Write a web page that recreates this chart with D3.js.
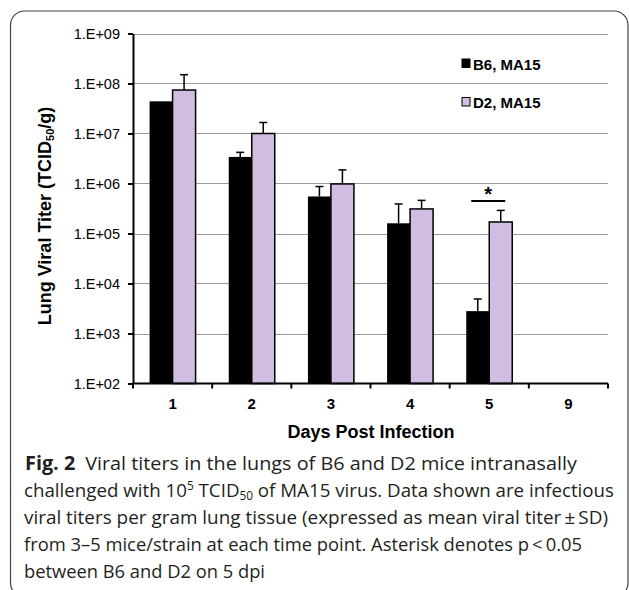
<!DOCTYPE html>
<html>
<head>
<meta charset="utf-8">
<script src="https://cdn.jsdelivr.net/npm/d3@7"></script>
<style>
body { margin: 0; background: #fff; }
svg { display: block; }
</style>
</head>
<body>
<div id="chart"></div>
<script>
// values (TCID50 per gram)
var days = ["1", "2", "3", "4", "5", "9"];
var b6Mean = [4.4e7, 3.4e6, 5.5e5, 1.6e5, 2.8e3, null];
var b6Upper = [null, 4.2e6, 8.7e5, 3.9e5, 4.9e3, null];
var d2Mean = [7.4e7, 1.0e7, 9.8e5, 3.1e5, 1.7e5, null];
var d2Upper = [1.5e8, 1.66e7, 1.87e6, 4.6e5, 2.9e5, null];
var yTicks = [1e2, 1e3, 1e4, 1e5, 1e6, 1e7, 1e8, 1e9];
var seriesNames = ["B6, MA15", "D2, MA15"];
var seriesColors = ["#000000", "#d1bde2"];

var svg = d3.select("#chart").append("svg").attr("width", 629).attr("height", 590);

//frame round the figure
svg.append("rect").attr("x", 10.5).attr("y", 11).attr("width", 617.5).attr("height", 586).attr("rx", 14)
  .attr("fill", "none").attr("stroke", "#444").attr("stroke-width", 1.2);

var plotL = 133, plotR = 608, plotT = 33.5, plotB = 383.5;

var x = d3.scaleBand().domain(days).range([plotL, plotR]).padding(0);
var y = d3.scaleLog().domain([1e2, 1e9]).range([plotB, plotT]);
var barW = 23;

//gridlines
svg.append("g").selectAll("line").data(yTicks.slice(1)).enter().append("line")
  .attr("x1", plotL).attr("x2", plotR).attr("y1", d => Math.round(y(d)) + 0.5).attr("y2", d => Math.round(y(d)) + 0.5)
  .attr("stroke", "#9a9a9a").attr("stroke-width", 1);

//y axis
var yAxis = d3.axisLeft(y).tickValues(yTicks).tickSize(5).tickSizeOuter(0).tickPadding(8)
  .tickFormat(d => "1.E+" + String(Math.round(Math.log10(d))).padStart(2, "0"));
var gy = svg.append("g").attr("transform", "translate(" + plotL + ",0)").call(yAxis);
gy.selectAll("text").attr("font-family", "Liberation Sans, Arial, sans-serif").attr("font-size", 14.5).attr("fill", "#000");
gy.selectAll("line,path").attr("stroke", "#000").attr("stroke-width", 2);

//bars
var pairs = days.map((d, i) => ({ day: d, vals: [b6Mean[i], d2Mean[i]], ups: [b6Upper[i], d2Upper[i]] }));
var groups = svg.append("g").selectAll("g").data(pairs).enter().append("g");

groups.each(function (p) {
  var g = d3.select(this);
  var cx = x(p.day) + x.bandwidth() / 2;
  p.vals.forEach(function (v, s) {
    if (v == null) return;
    var bx = s == 0 ? cx - barW : cx;
    g.append("rect").attr("x", bx).attr("y", y(v)).attr("width", barW).attr("height", plotB - y(v))
      .attr("fill", seriesColors[s]).attr("stroke", "#000").attr("stroke-width", s == 0 ? 0 : 1.5);
    var u = p.ups[s];
    if (u != null) {
      var ex = bx + barW / 2;
      g.append("line").attr("x1", ex).attr("x2", ex).attr("y1", y(v)).attr("y2", y(u)).attr("stroke", "#000").attr("stroke-width", 1.5);
      g.append("line").attr("x1", ex - 4).attr("x2", ex + 4).attr("y1", y(u)).attr("y2", y(u)).attr("stroke", "#000").attr("stroke-width", 1.5);
    }
  });
});

//x axis
var gx = svg.append("g");
gx.append("line").attr("x1", plotL).attr("x2", plotR).attr("y1", plotB).attr("y2", plotB).attr("stroke", "#000").attr("stroke-width", 2);
gx.selectAll(".tk").data(days.concat(["end"])).enter().append("line")
  .attr("x1", (d, i) => plotL + i * x.bandwidth()).attr("x2", (d, i) => plotL + i * x.bandwidth())
  .attr("y1", plotB).attr("y2", plotB + 5).attr("stroke", "#000").attr("stroke-width", 2);
gx.selectAll("text").data(days).enter().append("text")
  .attr("x", d => x(d) + x.bandwidth() / 2).attr("y", 409).attr("text-anchor", "middle")
  .attr("font-family", "Liberation Sans, Arial, sans-serif").attr("font-weight", "bold").attr("font-size", 15)
  .text(d => d);

svg.append("text").attr("x", 371).attr("y", 438).attr("text-anchor", "middle")
  .attr("font-family", "Liberation Sans, Arial, sans-serif").attr("font-weight", "bold").attr("font-size", 18)
  .text("Days Post Infection");

//y title
var yt = svg.append("text").attr("transform", "translate(51,216) rotate(-90)").attr("text-anchor", "middle")
  .attr("font-family", "Liberation Sans, Arial, sans-serif").attr("font-weight", "bold").attr("font-size", 18);
yt.append("tspan").text("Lung Viral Titer (TCID");
yt.append("tspan").attr("font-size", 11).attr("baseline-shift", "-3").text("50");
yt.append("tspan").text("/g)");

//legend
var lg = svg.append("g").selectAll("g").data(seriesNames).enter().append("g")
  .attr("transform", (d, i) => "translate(462," + (59 + i * 38.5) + ")");
lg.append("rect").attr("width", 8).attr("height", 8.5).attr("fill", (d, i) => seriesColors[i]).attr("stroke", "#000").attr("stroke-width", 1);
lg.append("text").attr("x", 11).attr("y", 10.5).attr("font-family", "Liberation Sans, Arial, sans-serif")
  .attr("font-weight", "bold").attr("font-size", 15).text(d => d);

//significance mark on day 5
var c5 = x("5") + x.bandwidth() / 2;
svg.append("line").attr("x1", c5 - 18).attr("x2", c5 + 16).attr("y1", 201).attr("y2", 201).attr("stroke", "#000").attr("stroke-width", 2);
svg.append("text").attr("x", c5 - 1).attr("y", 201).attr("text-anchor", "middle")
  .attr("font-family", "Liberation Sans, Arial, sans-serif").attr("font-weight", "bold").attr("font-size", 20).text("*");

//caption, each line squeezed to the width it has in the figure
var cap = svg.append("g").attr("font-family", "Open Sans, sans-serif").attr("font-size", 19).attr("fill", "#231f20");
var l1 = cap.append("text").attr("x", 25).attr("y", 470).attr("textLength", 552).attr("lengthAdjust", "spacingAndGlyphs");
l1.append("tspan").attr("font-weight", "bold").text("Fig. 2");
l1.append("tspan").text("\u2002Viral titers in the lungs of B6 and D2 mice intranasally");
var l2 = cap.append("text").attr("x", 24).attr("y", 497).attr("textLength", 590).attr("lengthAdjust", "spacingAndGlyphs");
l2.append("tspan").text("challenged with 10");
l2.append("tspan").attr("font-size", 12).attr("baseline-shift", "7").text("5");
l2.append("tspan").text(" TCID");
l2.append("tspan").attr("font-size", 12).attr("baseline-shift", "-3").text("50");
l2.append("tspan").text(" of MA15 virus. Data shown are infectious");
cap.append("text").attr("x", 24).attr("y", 524).attr("textLength", 584).attr("lengthAdjust", "spacingAndGlyphs")
  .text("viral titers per gram lung tissue (expressed as mean viral titer\u2009\u00b1\u2009SD)");
cap.append("text").attr("x", 24).attr("y", 551).attr("textLength", 558).attr("lengthAdjust", "spacingAndGlyphs")
  .text("from 3\u20135 mice/strain at each time point. Asterisk denotes p\u2009<\u20090.05");
cap.append("text").attr("x", 24).attr("y", 578).attr("textLength", 241).attr("lengthAdjust", "spacingAndGlyphs")
  .text("between B6 and D2 on 5 dpi");
</script>
</body>
</html>
